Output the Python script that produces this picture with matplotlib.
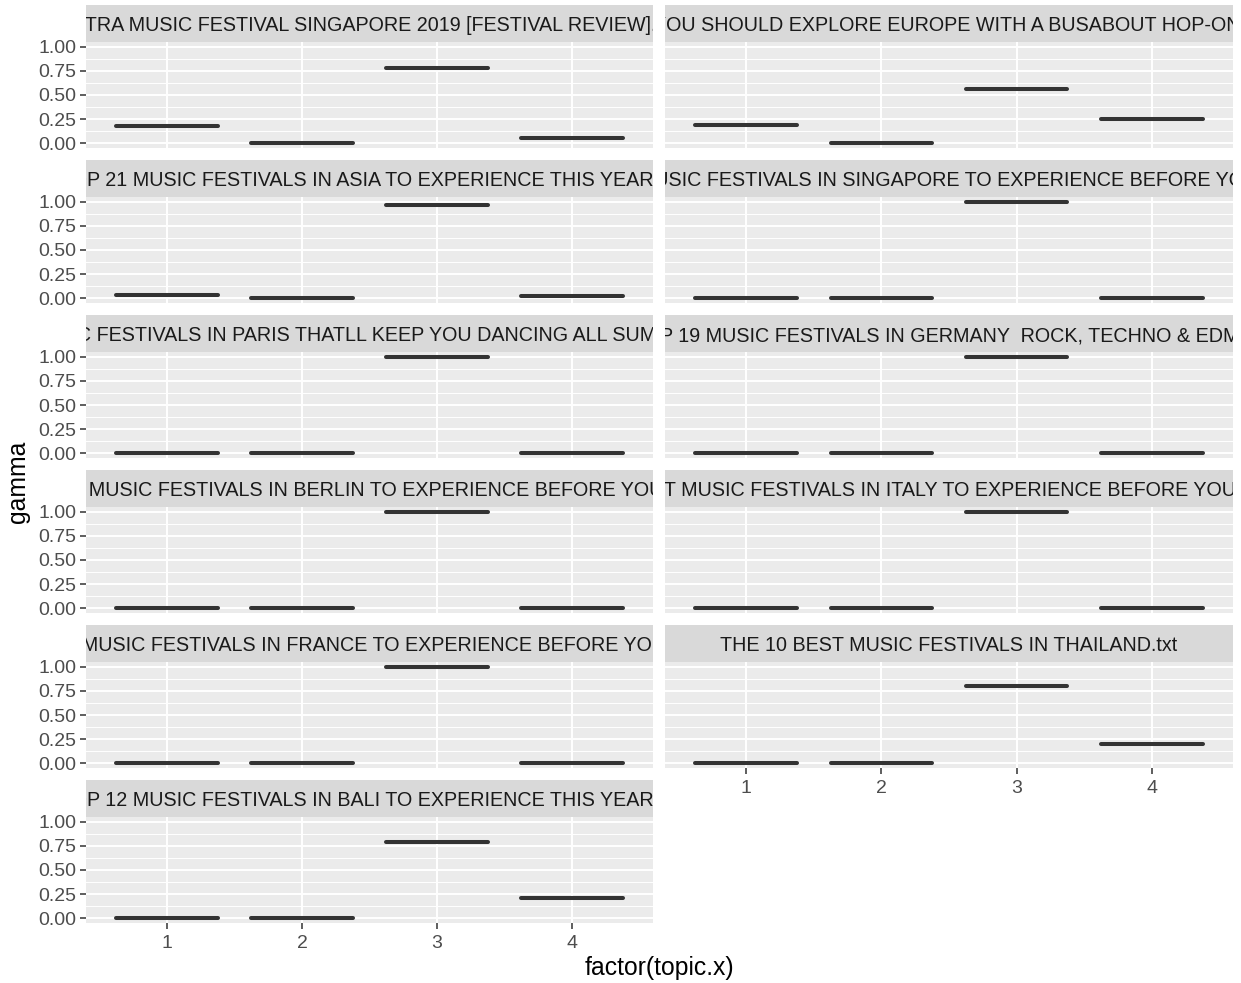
import numpy as np
import matplotlib.pyplot as plt

plt.rcParams['font.family'] = ['Liberation Sans', 'DejaVu Sans']

# ---------------- data ----------------
topics = [1, 2, 3, 4]

titles = [
    'ULTRA MUSIC FESTIVAL SINGAPORE 2019 [FESTIVAL REVIEW].txt',
    '10 REASONS WHY YOU SHOULD EXPLORE EUROPE WITH A BUSABOUT HOP-ON HOP-OFF PASS.txt',
    'TOP 21 MUSIC FESTIVALS IN ASIA TO EXPERIENCE THIS YEAR.txt',
    'TOP 10 MUSIC FESTIVALS IN SINGAPORE TO EXPERIENCE BEFORE YOU DIE.txt',
    '15 MUSIC FESTIVALS IN PARIS THATLL KEEP YOU DANCING ALL SUMMER.txt',
    'TOP 19 MUSIC FESTIVALS IN GERMANY  ROCK, TECHNO & EDM.txt',
    'TOP 10 MUSIC FESTIVALS IN BERLIN TO EXPERIENCE BEFORE YOU DIE.txt',
    '10 BEST MUSIC FESTIVALS IN ITALY TO EXPERIENCE BEFORE YOU DIE.txt',
    'TOP 10 MUSIC FESTIVALS IN FRANCE TO EXPERIENCE BEFORE YOU DIE.txt',
    'THE 10 BEST MUSIC FESTIVALS IN THAILAND.txt',
    'TOP 12 MUSIC FESTIVALS IN BALI TO EXPERIENCE THIS YEAR.txt',
]

gamma_ultra = [0.175, 0.0, 0.778, 0.049]
gamma_europe = [0.184, 0.0, 0.566, 0.254]
gamma_asia = [0.03, 0.005, 0.97, 0.02]
gamma_singapore = [0.0, 0.0, 1.0, 0.0]
gamma_paris = [0.0, 0.0, 1.0, 0.0]
gamma_germany = [0.0, 0.0, 1.0, 0.0]
gamma_berlin = [0.0, 0.0, 1.0, 0.0]
gamma_italy = [0.0, 0.0, 1.0, 0.0]
gamma_france = [0.0, 0.0, 1.0, 0.0]
gamma_thailand = [0.0, 0.0, 0.80, 0.20]
gamma_bali = [0.0, 0.0, 0.787, 0.213]

gammas = [gamma_ultra, gamma_europe, gamma_asia, gamma_singapore, gamma_paris,
          gamma_germany, gamma_berlin, gamma_italy, gamma_france,
          gamma_thailand, gamma_bali]

# small horizontal nudges (px) so the clipped strip titles line up
strip_dx = [0, -4, 0, -5, -6, 0, 2, 0, 0, 0, 0]

# ---------------- layout ----------------
W, H = 1241, 983
fig = plt.figure(figsize=(W / 100, H / 100), dpi=100)

def rect(x0, y0, x1, y1):
    return [x0 / W, 1 - y1 / H, (x1 - x0) / W, (y1 - y0) / H]

cols = [(86, 653), (665, 1233)]
lbl_color = '#4D4D4D'
dark = '#333333'

for i in range(len(titles)):
    row = i // 2
    col = i % 2
    x0, x1 = cols[col]
    st = 5 + 155 * row
    sb = 42 + 155 * row
    pb = 148 + 155 * row

    # strip
    sax = fig.add_axes(rect(x0, st, x1, sb))
    sax.set_facecolor('#D9D9D9')
    sax.set_xticks([]); sax.set_yticks([])
    for s in sax.spines.values():
        s.set_visible(False)
    sax.text(0.5 + strip_dx[i] / (x1 - x0), 0.29, titles[i], transform=sax.transAxes,
             ha='center', va='baseline', fontsize=14.2, color='#1A1A1A', clip_on=True)

    # panel
    ax = fig.add_axes(rect(x0, sb, x1, pb))
    ax.set_facecolor('#EBEBEB')
    for s in ax.spines.values():
        s.set_visible(False)
    ax.set_xlim(0.4, 4.6)
    ax.set_ylim(-0.05, 1.05)
    ax.set_yticks([0, 0.25, 0.5, 0.75, 1.0])
    ax.set_yticks([0.125, 0.375, 0.625, 0.875], minor=True)
    ax.set_xticks(topics)
    ax.grid(which='major', color='white', linewidth=1.4)
    ax.grid(which='minor', axis='y', color='white', linewidth=0.7)
    ax.set_axisbelow(True)

    ax.boxplot([[v] for v in gammas[i]], positions=topics, widths=0.75,
               showfliers=False, manage_ticks=False,
               medianprops=dict(color=dark, linewidth=2.9, solid_capstyle='round'),
               boxprops=dict(color=dark, linewidth=1),
               whiskerprops=dict(color=dark, linewidth=1),
               capprops=dict(linewidth=0))

    ax.tick_params(which='minor', length=0)
    if col == 0:
        ax.set_yticklabels(['0.00', '0.25', '0.50', '0.75', '1.00'])
        ax.tick_params(axis='y', length=4.5, width=1.1, color=dark, pad=2.5,
                       labelsize=14, labelcolor=lbl_color)
    else:
        ax.tick_params(axis='y', length=0, labelleft=False)
    if i in (9, 10):
        ax.set_xticklabels([str(t) for t in topics])
        ax.tick_params(axis='x', length=4.5, width=1.1, color=dark, pad=3.8,
                       labelsize=14, labelcolor=lbl_color)
    else:
        ax.tick_params(axis='x', length=0, labelbottom=False)

fig.text(659.5 / W, 1 - 968 / H, 'factor(topic.x)', ha='center', va='center',
         fontsize=17.8, color='black')
fig.text(18 / W, 1 - 482 / H, 'gamma', ha='center', va='center', rotation=90,
         fontsize=17.8, color='black')

fig.savefig('out.png', dpi=100, facecolor='white')
